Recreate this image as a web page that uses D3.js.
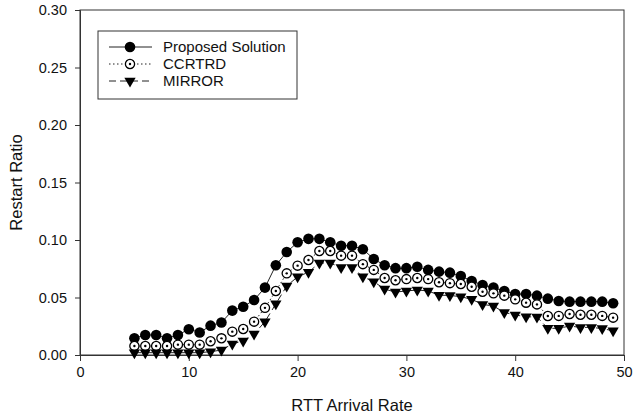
<!DOCTYPE html>
<html>
<head>
<meta charset="utf-8">
<script src="https://cdn.jsdelivr.net/npm/d3@7"></script>
<style>
  body { margin: 0; background: #fff; }
  text { font-family: "Liberation Sans", Arial, sans-serif; fill: #111; }
</style>
</head>
<body>
<script>
// data
var rates = d3.range(5, 50);   // 5 .. 49

var proposed = [0.0145, 0.0174, 0.0174, 0.0145, 0.0174, 0.0224, 0.0196, 0.0255, 0.0283, 0.0386,
                0.0420, 0.0478, 0.0586, 0.0780, 0.0895, 0.0980, 0.1010, 0.1010, 0.0980, 0.0950,
                0.0950, 0.0920, 0.0835, 0.0780, 0.0755, 0.0755, 0.0768, 0.0740, 0.0725, 0.0716,
                0.0687, 0.0643, 0.0609, 0.0586, 0.0557, 0.0530, 0.0530, 0.0516, 0.0490, 0.0470,
                0.0464, 0.0464, 0.0464, 0.0464, 0.0450];

var ccrtrd = [0.0078, 0.0078, 0.0078, 0.0078, 0.0090, 0.0090, 0.0090, 0.0120, 0.0145, 0.0203,
              0.0226, 0.0290, 0.0410, 0.0557, 0.0710, 0.0777, 0.0826, 0.0904, 0.0904, 0.0864,
              0.0864, 0.0790, 0.0740, 0.0670, 0.0650, 0.0660, 0.0670, 0.0660, 0.0633, 0.0625,
              0.0617, 0.0594, 0.0550, 0.0536, 0.0516, 0.0484, 0.0455, 0.0440, 0.0339, 0.0340,
              0.0357, 0.0350, 0.0350, 0.0340, 0.0325];

var mirror = [0.0020, 0.0020, 0.0020, 0.0020, 0.0020, 0.0020, 0.0020, 0.0029, 0.0043, 0.0096,
              0.0122, 0.0183, 0.0290, 0.0445, 0.0600, 0.0680, 0.0720, 0.0800, 0.0800, 0.0760,
              0.0760, 0.0680, 0.0638, 0.0573, 0.0547, 0.0557, 0.0565, 0.0557, 0.0520, 0.0518,
              0.0507, 0.0484, 0.0440, 0.0426, 0.0370, 0.0348, 0.0333, 0.0330, 0.0232, 0.0232,
              0.0252, 0.0240, 0.0240, 0.0230, 0.0210];

var seriesNames = ["Proposed Solution", "CCRTRD", "MIRROR"];
var xTicks = [0, 10, 20, 30, 40, 50];
var yTicks = [0, 0.05, 0.10, 0.15, 0.20, 0.25, 0.30];

var W = 633, H = 418;
var margin = {top: 10, right: 9, bottom: 63, left: 80};

var svg = d3.select("body").append("svg")
    .attr("width", W)
    .attr("height", H);

var x = d3.scaleLinear().domain([0, 50]).range([margin.left, W - margin.right]);
var y = d3.scaleLinear().domain([0, 0.30]).range([H - margin.bottom, margin.top]);

// frame
svg.append("rect")
    .attr("x", x(0)).attr("y", y(0.30))
    .attr("width", x(50) - x(0)).attr("height", y(0) - y(0.30))
    .attr("fill", "none").attr("stroke", "#333").attr("stroke-width", 1);

// axes
var xAxis = svg.append("g")
    .attr("transform", "translate(0," + y(0) + ")")
    .call(d3.axisBottom(x).tickValues(xTicks).tickSize(6).tickPadding(6).tickFormat(d3.format("d")));
var yAxis = svg.append("g")
    .attr("transform", "translate(" + x(0) + ",0)")
    .call(d3.axisLeft(y).tickValues(yTicks).tickSize(5).tickPadding(8).tickFormat(d3.format(".2f")));

[xAxis, yAxis].forEach(function(g) {
    g.select(".domain").attr("stroke", "#333");
    g.selectAll(".tick line").attr("stroke", "#333");
    g.selectAll(".tick text").style("font-size", "14.5px").style("font-family", "Liberation Sans, Arial, sans-serif").attr("fill", "#111");
});

// axis titles
svg.append("text")
    .attr("x", (x(0) + x(50)) / 2)
    .attr("y", 411)
    .attr("text-anchor", "middle")
    .style("font-size", "16.5px")
    .text("RTT Arrival Rate");

svg.append("text")
    .attr("transform", "translate(22," + ((y(0) + y(0.30)) / 2) + ") rotate(-90)")
    .attr("text-anchor", "middle")
    .style("font-size", "16.5px")
    .text("Restart Ratio");

// series
var series = [
    {name: seriesNames[0], values: proposed, dash: null, marker: "filled"},
    {name: seriesNames[1], values: ccrtrd, dash: "1.5,2.5", marker: "open"},
    {name: seriesNames[2], values: mirror, dash: "7,4", marker: "tri"}
];

var line = d3.line()
    .x(function(d, i) { return x(rates[i]); })
    .y(function(d) { return y(d); });

function drawMarker(g, type) {
    if (type == "filled") {
        g.append("circle").attr("r", 5.3).attr("fill", "#000");
    } else if (type == "open") {
        g.append("circle").attr("r", 4.6).attr("fill", "#fff").attr("stroke", "#000").attr("stroke-width", 1.3);
        g.append("circle").attr("r", 1.2).attr("fill", "#000");
    } else {
        g.append("path")
            .attr("d", d3.symbol().type(d3.symbolTriangle).size(55)())
            .attr("transform", "rotate(180)")
            .attr("fill", "#000");
    }
}

series.forEach(function(s) {
    svg.append("path")
        .datum(s.values)
        .attr("d", line)
        .attr("fill", "none")
        .attr("stroke", "#222")
        .attr("stroke-width", 1)
        .attr("stroke-dasharray", s.dash);

    svg.selectAll(".pt-" + s.marker)
        .data(s.values)
        .enter().append("g")
        .attr("class", "pt-" + s.marker)
        .attr("transform", function(d, i) { return "translate(" + x(rates[i]) + "," + y(d) + ")"; })
        .each(function() { drawMarker(d3.select(this), s.marker); });
});

// legend
var legend = svg.append("g");
legend.append("rect")
    .attr("x", 98).attr("y", 31)
    .attr("width", 199).attr("height", 68)
    .attr("fill", "#fff").attr("stroke", "#333").attr("stroke-width", 1);

var rowY = [47, 64, 81];
series.forEach(function(s, i) {
    var row = legend.append("g").attr("transform", "translate(0," + rowY[i] + ")");
    row.append("line")
        .attr("x1", 109).attr("x2", 152)
        .attr("stroke", "#222").attr("stroke-width", 1)
        .attr("stroke-dasharray", s.dash);
    drawMarker(row.append("g").attr("transform", "translate(130,0)"), s.marker);
    row.append("text")
        .attr("x", 163).attr("dy", "0.35em")
        .style("font-size", "15px")
        .text(s.name);
});
</script>
</body>
</html>
